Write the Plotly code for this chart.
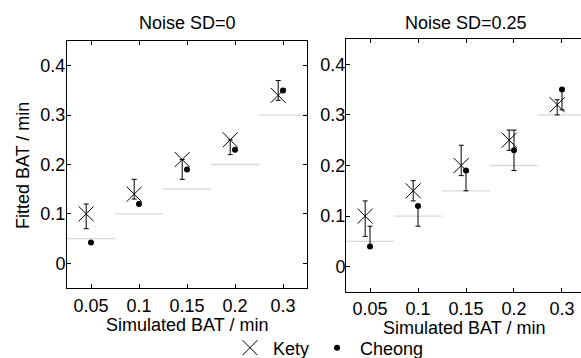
import plotly.graph_objects as go

categories = ["0.05", "0.1", "0.15", "0.2", "0.3"]
true_bat = [0.05, 0.1, 0.15, 0.2, 0.3]

# Noise SD = 0
kety0 = [0.10, 0.14, 0.21, 0.25, 0.34]
kety0_hi = [0.12, 0.17, 0.21, 0.25, 0.37]
kety0_lo = [0.07, 0.13, 0.17, 0.22, 0.33]
cheong0 = [0.042, 0.12, 0.19, 0.23, 0.35]

# Noise SD = 0.25
kety25 = [0.10, 0.15, 0.20, 0.25, 0.32]
kety25_hi = [0.13, 0.17, 0.24, 0.27, 0.33]
kety25_lo = [0.06, 0.13, 0.18, 0.23, 0.30]
cheong25 = [0.04, 0.12, 0.19, 0.23, 0.35]
cheong25_hi = [0.08, 0.12, 0.19, 0.27, 0.35]
cheong25_lo = [0.04, 0.08, 0.15, 0.19, 0.31]

FONT = "Liberation Sans, Arial, Helvetica, sans-serif"
FS = 18
W, H = 581, 358
KETY_OFF = -0.1

idx = list(range(len(categories)))

fig = go.Figure()


def ref_segments(xa, ya):
    xs, ys = [], []
    for i, t in zip(idx, true_bat):
        xs += [i - 0.5, i + 0.5, None]
        ys += [t, t, None]
    fig.add_trace(go.Scatter(x=xs, y=ys, mode="lines", xaxis=xa, yaxis=ya,
                             line=dict(color="#d8d8d8", width=1.3),
                             showlegend=False, hoverinfo="skip"))


def add_panel(xa, ya, kv, khi, klo, cv, chi, clo, legend):
    ref_segments(xa, ya)
    fig.add_trace(go.Scatter(
        x=[i + KETY_OFF for i in idx], y=kv, mode="markers", name="Kety",
        xaxis=xa, yaxis=ya, showlegend=legend,
        marker=dict(symbol="x-thin-open", size=15, color="black",
                    line=dict(color="black", width=1)),
        error_y=dict(type="data", symmetric=False,
                     array=[h - v for h, v in zip(khi, kv)],
                     arrayminus=[v - l for l, v in zip(klo, kv)],
                     color="black", thickness=1, width=2.5)))
    err = None
    if chi is not None:
        err = dict(type="data", symmetric=False,
                   array=[h - v for h, v in zip(chi, cv)],
                   arrayminus=[v - l for l, v in zip(clo, cv)],
                   color="black", thickness=1, width=2.5)
    fig.add_trace(go.Scatter(
        x=idx, y=cv, mode="markers", name="Cheong",
        xaxis=xa, yaxis=ya, showlegend=legend,
        marker=dict(symbol="circle", size=6, color="black"),
        error_y=err))


add_panel("x", "y", kety0, kety0_hi, kety0_lo, cheong0, None, None, True)
add_panel("x2", "y2", kety25, kety25_hi, kety25_lo, cheong25, cheong25_hi, cheong25_lo, False)

axis_common = dict(showline=True, linecolor="black", linewidth=1, ticks="inside",
                   ticklen=4, tickcolor="black", showgrid=False, zeroline=False,
                   tickfont=dict(family=FONT, size=FS, color="black"))

yticks = [0, 0.1, 0.2, 0.3, 0.4]
ytext = ["0", "0.1", "0.2", "0.3", "0.4"]

fig.update_layout(
    width=W, height=H,
    margin=dict(l=0, r=0, t=0, b=0, autoexpand=False),
    plot_bgcolor="white", paper_bgcolor="white",
    font=dict(family=FONT, size=FS, color="black"),
    xaxis=dict(domain=[67 / W, 307 / W], range=[-0.5, 4.5], tickvals=idx,
               ticktext=categories, mirror="ticks", anchor="y",
               ticklabelstandoff=1, **axis_common),
    yaxis=dict(domain=[70 / H, 317 / H], range=[-0.05, 0.45], tickvals=yticks,
               ticktext=ytext, mirror="ticks", anchor="x", ticklabelstandoff=-3,
               **axis_common),
    xaxis2=dict(domain=[346 / W, 1.0], range=[-0.5, 4.396], tickvals=idx,
                ticktext=categories, mirror="ticks", anchor="y2",
                ticklabelstandoff=0, **axis_common),
    yaxis2=dict(domain=[66 / H, 319 / H], range=[-0.05, 0.45], tickvals=yticks,
                ticktext=ytext, mirror=False, anchor="x2", ticklabelstandoff=-4,
                **axis_common),
    legend=dict(orientation="h", x=227 / W, xanchor="left", y=(H - 348) / H,
                yanchor="middle", font=dict(family=FONT, size=FS, color="black"),
                bgcolor="rgba(0,0,0,0)", borderwidth=0, itemwidth=36),
    showlegend=True,
)

ann = [
    dict(text="Noise SD=0", x=187 / W, y=(H - 23) / H),
    dict(text="Noise SD=0.25", x=466 / W, y=(H - 23) / H),
    dict(text="Simulated BAT / min", x=187 / W, y=(H - 325) / H),
    dict(text="Simulated BAT / min", x=464 / W, y=(H - 328) / H),
    dict(text="Fitted BAT / min", x=23 / W, y=(H - 166) / H, textangle=-90),
]
for a in ann:
    fig.add_annotation(xref="paper", yref="paper", showarrow=False,
                       xanchor="center", yanchor="middle",
                       font=dict(family=FONT, size=FS, color="black"), **a)

fig.write_html("out.html", config={"displayModeBar": False},
               post_script="document.body.style.margin='0px';document.body.style.overflow='hidden';")
